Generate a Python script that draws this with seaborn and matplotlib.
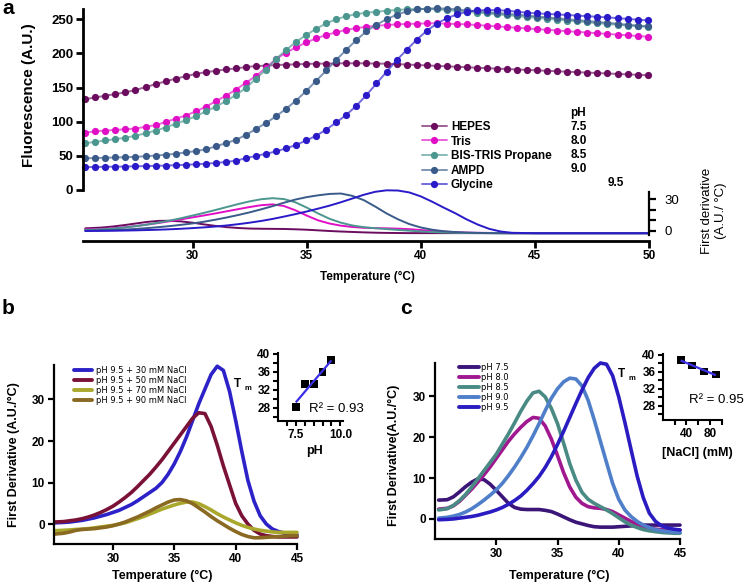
import matplotlib
matplotlib.use("Agg")
import matplotlib.pyplot as plt
from matplotlib.colors import to_rgba
from matplotlib.ticker import FixedLocator
import numpy as np
import seaborn as sns

sns.set_theme(style="ticks")
plt.rcParams["font.family"] = ["Liberation Sans", "DejaVu Sans"]
plt.rcParams["font.weight"] = "bold"
plt.rcParams["axes.labelweight"] = "bold"
plt.rcParams["axes.edgecolor"] = "black"
plt.rcParams["xtick.color"] = "black"
plt.rcParams["ytick.color"] = "black"
plt.rcParams["text.color"] = "black"
for k in ["xtick.major.width", "ytick.major.width", "xtick.minor.width", "ytick.minor.width"]:
    plt.rcParams[k] = 1.6

# ---------------- panel a : melting curves ----------------
buffers = ["HEPES", "Tris", "BIS-TRIS Propane", "AMPD", "Glycine"]
buffer_ph = ["7.5", "8.0", "8.5", "9.0", "9.5"]
colors_a = ["#6b0c5f", "#e00fc6", "#4b968f", "#3a5b8a", "#2a1ac8"]

temp_a = [25.30, 25.74, 26.18, 26.62, 27.06, 27.50, 27.94, 28.38, 28.82, 29.26,
          29.70, 30.14, 30.58, 31.02, 31.46, 31.90, 32.34, 32.78, 33.22, 33.66,
          34.10, 34.54, 34.98, 35.42, 35.86, 36.30, 36.74, 37.18, 37.62, 38.06,
          38.50, 38.94, 39.38, 39.82, 40.26, 40.70, 41.14, 41.58, 42.02, 42.46,
          42.90, 43.34, 43.78, 44.22, 44.66, 45.10, 45.54, 45.98, 46.42, 46.86,
          47.30, 47.74, 48.18, 48.62, 49.06, 49.50, 49.94]

fluo_hepes = [133, 135.5, 138, 140.5, 143, 146.5, 150.5, 155, 159, 163,
              166.5, 170, 172.5, 174.5, 176.5, 178, 180, 181.5, 182, 183,
              183.5, 184, 184.5, 185, 185, 185.5, 185.5, 185.5, 185.5, 185,
              185, 184.3, 183.7, 183, 182.4, 181.7, 181, 180.4, 179.7, 179,
              178.4, 177.7, 177.1, 176.4, 175.8, 175.1, 174.5, 173.8, 173.2, 172.5,
              171.9, 171.2, 170.6, 169.9, 169.3, 168.6, 168]
fluo_tris = [84, 86, 87, 88, 89, 90, 92.5, 95, 99.5, 104.5,
             109, 115, 122, 130, 138, 147, 157, 167, 179, 192,
             201, 209, 216, 222, 227, 231, 234.5, 237, 239, 240.5,
             241.5, 242.5, 243, 243.5, 244, 244, 243.5, 243, 242.5, 241.5,
             240.5, 239.5, 238.5, 237.5, 236.5, 235.5, 234.5, 233.5, 232.5, 231.5,
             230.5, 229.5, 228.5, 227.5, 226.5, 225.5, 224.5]
fluo_btp = [68.5, 70.5, 72.5, 74.5, 76.5, 79.5, 83, 87, 91.5, 97,
            102, 108, 115, 122, 130, 139, 149.5, 163, 176, 192,
            205, 217, 227, 236, 244, 250, 254.5, 257.5, 259.5, 261,
            262.5, 263.5, 264.5, 265, 265, 264.5, 263.5, 262.3, 261, 259.8,
            258.5, 257.2, 255.9, 254.6, 253.3, 252, 250.7, 249.4, 248.1, 246.8,
            245.5, 244.2, 243, 241.9, 240.8, 239.8, 239]
fluo_ampd = [46.5, 46.8, 47.2, 47.6, 48, 48.6, 49.4, 50.4, 51.6, 53,
             55, 57, 59.5, 64, 68.5, 73.5, 80.5, 89.5, 98, 108,
             119, 131, 145, 160, 175, 190.5, 205.5, 219.5, 232.5, 242,
             250, 256.5, 261.5, 264.5, 265.5, 266, 265.5, 264.5, 263, 261.8,
             260.5, 259.2, 258, 256.7, 255.4, 254, 252.7, 251.4, 250, 248.7,
             247.4, 246, 244.7, 243.4, 242, 240.7, 239.5]
fluo_gly = [33.5, 33.7, 34, 34.2, 34.4, 34.7, 35, 35.4, 35.8, 36.3,
            36.9, 37.6, 38.5, 39.6, 41, 43, 46.5, 50, 53, 56.5,
            61, 66, 72.5, 79.5, 88.5, 99, 110, 123.5, 139, 156,
            173, 190, 205, 220, 233, 243.5, 251.5, 257, 261, 263,
            263.5, 263.3, 262.5, 261, 259.5, 258.5, 257.8, 257, 256.2, 255.4,
            254.5, 253.6, 252.7, 251.6, 250.5, 249.4, 248.3]

temp_da = [25.3, 26, 26.5, 27, 27.5, 28, 28.5, 29, 29.5, 30,
           30.5, 31, 31.5, 32, 32.5, 33, 33.5, 34, 34.5, 35,
           35.5, 36, 36.5, 37, 37.5, 38, 38.5, 39, 39.5, 40,
           40.5, 41, 41.5, 42, 42.5, 43, 43.5, 44, 45, 46, 47, 48, 49, 50]
deriv_hepes = [2.5, 3.2, 4.2, 5.5, 7, 8.5, 9.5, 9.6, 9, 7.8,
               6.2, 4.8, 3.6, 2.8, 2.3, 2.1, 2, 1.9, 1.6, 1.2,
               0.6, 0, -0.5, -0.9, -1.3, -1.6, -1.8, -1.9, -2, -2,
               -2, -2, -2, -2, -2, -2, -2, -2, -2, -2, -2, -2, -2, -2]
deriv_tris = [1.5, 2, 2.6, 3.5, 4.6, 6, 7.5, 9.2, 11, 12.8,
              14.6, 16.5, 18.5, 20.5, 22.5, 24.2, 25, 23.5, 19.5, 14.5,
              10, 7, 5, 3.8, 3, 2.7, 2.5, 2.2, 1.7, 0.9,
              0.1, -0.6, -1.1, -1.5, -1.7, -1.8, -1.9, -1.9, -1.9, -1.9, -1.9, -1.9, -1.9, -1.9]
deriv_btp = [1, 1.6, 2.3, 3.2, 4.5, 6, 7.8, 9.8, 12, 14.5,
             17, 19.7, 22.5, 25.3, 27.8, 29.8, 30.8, 30, 27, 22,
             16.5, 11.5, 7.8, 5.2, 3.6, 2.6, 1.8, 1, 0.3, -0.4,
             -1, -1.4, -1.7, -1.9, -2, -2, -2.1, -2.1, -2.1, -2.1, -2.1, -2.1, -2.1, -2.1]
deriv_ampd = [0.3, 0.6, 0.9, 1.3, 1.9, 2.7, 3.6, 4.6, 5.8, 7.1,
              8.7, 10.6, 12.7, 15, 17.5, 20.3, 23.3, 26.5, 29.5, 31.8,
              33.5, 34.8, 35.2, 33, 29, 23, 16.5, 11, 6.5, 3.3,
              1.2, -0.2, -1, -1.5, -1.8, -2, -2.1, -2.2, -2.2, -2.2, -2.2, -2.2, -2.2, -2.2]
deriv_gly = [0, 0.1, 0.2, 0.4, 0.6, 0.9, 1.2, 1.6, 2.1, 2.7,
             3.4, 4.2, 5.2, 6.4, 7.8, 9.4, 11.3, 13.5, 15.8, 18.3,
             21, 23.8, 27, 30.5, 34, 36.8, 38.2, 38, 36.2, 32.5,
             27.5, 22, 16.8, 11, 6, 2, -0.5, -1.7, -2.1, -2.1, -2.1, -2.1, -2.1, -2.1]

# ---------------- panels b and c : first derivatives ----------------
temp_bc = [25.3, 26, 26.5, 27, 27.5, 28, 28.5, 29, 29.5, 30,
           30.5, 31, 31.5, 32, 32.5, 33, 33.5, 34, 34.5, 35,
           35.5, 36, 36.5, 37, 37.5, 38, 38.5, 39, 39.5, 40,
           40.5, 41, 41.5, 42, 42.5, 43, 43.5, 44, 44.5, 45]

nacl_labels = ["pH 9.5 + 30 mM NaCl", "pH 9.5 + 50 mM NaCl",
               "pH 9.5 + 70 mM NaCl", "pH 9.5 + 90 mM NaCl"]
colors_b = ["#2c22c8", "#7a1238", "#a9a82c", "#8a6a22"]
deriv_30 = [0.3, 0.4, 0.5, 0.7, 0.9, 1.2, 1.5, 1.9, 2.3, 2.8,
            3.3, 4, 4.7, 5.6, 6.6, 7.6, 8.6, 10, 12, 14.5,
            17.5, 21, 25, 29, 32.5, 36, 38, 37, 32, 25,
            17.5, 10.5, 5.5, 2, 0, -1.2, -1.8, -2.2, -2.5, -2.6]
deriv_50 = [0.5, 0.6, 0.8, 1, 1.3, 1.7, 2.2, 2.8, 3.5, 4.3,
            5.3, 6.4, 7.6, 9, 10.5, 12, 13.7, 15.5, 17.5, 19.5,
            21.5, 23.5, 25.5, 26.8, 26.6, 23.5, 19, 14, 9.5, 5,
            2, 0, -1.5, -2.4, -2.8, -3, -3.1, -3.1, -3.1, -3.1]
deriv_70 = [-1.6, -1.5, -1.4, -1.3, -1.2, -1.1, -0.9, -0.7, -0.5, -0.3,
            0, 0.3, 0.8, 1.3, 1.8, 2.4, 3, 3.6, 4.1, 4.6,
            5, 5.3, 5.3, 4.9, 4.2, 3.4, 2.5, 1.7, 1, 0.3,
            -0.3, -0.8, -1.2, -1.5, -1.7, -1.9, -2, -2, -2, -2]
deriv_90 = [-2.4, -2.2, -1.9, -1.5, -1.3, -1.2, -1.1, -0.9, -0.7, -0.4,
            0, 0.5, 1.1, 1.7, 2.4, 3.1, 3.9, 4.6, 5.3, 5.8,
            5.9, 5.6, 4.9, 3.9, 2.9, 1.8, 0.8, -0.1, -1, -1.8,
            -2.5, -3, -3.3, -3.3, -3.2, -3.1, -3, -2.9, -2.8, -2.8]

ph_labels = ["pH 7.5", "pH 8.0", "pH 8.5", "pH 9.0", "pH 9.5"]
colors_c = ["#3b1578", "#a01890", "#4a8a84", "#4f7fc9", "#2a1cc0"]
deriv_ph75 = [4.6, 4.7, 5.4, 6.6, 7.9, 9, 9.8, 9.6, 8.5, 7,
              5.4, 3.8, 2.8, 2.4, 2.3, 2.3, 2.3, 2.1, 1.8, 1.2,
              0.5, -0.2, -0.8, -1.2, -1.6, -1.9, -2, -2, -2, -1.9,
              -1.8, -1.7, -1.6, -1.5, -1.5, -1.5, -1.5, -1.5, -1.5, -1.5]
deriv_ph80 = [2.4, 2.6, 3.2, 4.3, 5.8, 7.3, 9, 10.8, 12.7, 14.8,
              16.9, 19, 20.8, 22.4, 23.8, 24.8, 24.6, 22.7, 19.5, 15.5,
              11.3, 7.8, 5.3, 3.8, 3, 2.7, 2.6, 2.3, 1.8, 1,
              0.2, -0.6, -1.3, -1.9, -2.3, -2.5, -2.6, -2.7, -2.7, -2.7]
deriv_ph85 = [2.2, 2.5, 3.3, 4.5, 6, 7.8, 9.8, 11.8, 13.8, 15.8,
              18.3, 20.8, 23.5, 26.3, 28.8, 30.8, 31.2, 29.8, 27, 23.3,
              18.5, 13.5, 9.5, 6.5, 4.8, 3.8, 3, 2.2, 1.3, 0.3,
              -0.7, -1.5, -2.1, -2.6, -2.9, -3.1, -3.3, -3.4, -3.5, -3.5]
deriv_ph90 = [0.2, 0.4, 0.7, 1.1, 1.7, 2.5, 3.5, 4.6, 5.8, 7.1,
              8.7, 10.6, 12.7, 15, 17.5, 20.3, 23.3, 26.5, 29.5, 31.8,
              33.5, 34.4, 34.2, 32.5, 29, 24.2, 19, 13.8, 8.7, 4.8,
              2.2, 0.6, -0.6, -1.5, -2.1, -2.6, -2.9, -3.1, -3.2, -3.3]
deriv_ph95 = [-0.2, -0.1, 0, 0.2, 0.4, 0.6, 0.9, 1.3, 1.7, 2.2,
              2.8, 3.6, 4.5, 5.6, 7, 8.6, 10.4, 12.6, 15.2, 18.2,
              21.4, 24.8, 28.2, 31.5, 34.5, 36.8, 38.1, 37.8, 35, 29.8,
              23.6, 17, 10.5, 5.2, 1.4, -0.6, -1.7, -2.2, -2.5, -2.7]

# insets: Tm
inset_ph = [7.5, 8.0, 8.5, 9.0, 9.5]
tm_ph = [28.3, 33.3, 33.3, 36.0, 38.6]
inset_nacl = [30, 50, 70, 90]
tm_nacl = [38.8, 37.5, 36.1, 35.4]

W, H = 744, 585


def box(l, t, r, b):
    return [l / W, 1 - b / H, (r - l) / W, (b - t) / H]


fig = plt.figure(figsize=(W / 100, H / 100), dpi=100)


def ftext(x, y, s, **kw):
    kw.setdefault("ha", "center")
    kw.setdefault("va", "center")
    fig.text(x / W, 1 - y / H, s, **kw)


def clear_patch(ax):
    ax.set_facecolor("none")
    ax.set_xlabel("")
    ax.set_ylabel("")


# ---- panel a, fluorescence ----
ax_f = fig.add_axes(box(83, 9, 649, 190))
fluo = [fluo_hepes, fluo_tris, fluo_btp, fluo_ampd, fluo_gly]
for name, vals, col in zip(buffers, fluo, colors_a):
    sns.lineplot(x=temp_a, y=vals, ax=ax_f, color=to_rgba(col, 0.65), lw=1.4,
                 marker="o", markersize=5.2, markerfacecolor=col, markeredgecolor=col,
                 markeredgewidth=0, label=name, clip_on=False)
ax_f.set_xlim(25.2, 50)
ax_f.set_ylim(0, 265)
ax_f.set_yticks([0, 50, 100, 150, 200, 250])
ax_f.set_xticks([])
sns.despine(ax=ax_f, bottom=True)
ax_f.spines["left"].set_linewidth(2)
ax_f.tick_params(axis="y", labelsize=9.5, length=5, width=2, pad=2)
clear_patch(ax_f)
ax_f.legend(loc="upper left", bbox_to_anchor=(422 / W, 1 - 121 / H),
            bbox_transform=fig.transFigure, frameon=False,
            prop=dict(weight="bold", size=8.5), handlelength=2.1,
            handletextpad=0.35, labelspacing=0.22, borderpad=0, borderaxespad=0)
ftext(578, 113, "pH", fontsize=8.5, fontweight="bold")
for i, ph in enumerate(buffer_ph[:4]):
    ftext(579, 127 + 14 * i, ph, fontsize=8.5, fontweight="bold")
ftext(616, 183, buffer_ph[4], fontsize=8.5, fontweight="bold")

# ---- panel a, derivative strip ----
ax_d = fig.add_axes(box(83, 190, 649, 241))
deriv_a = [deriv_hepes, deriv_tris, deriv_btp, deriv_ampd, deriv_gly]
for vals, col in zip(deriv_a, colors_a):
    sns.lineplot(x=temp_da, y=vals, ax=ax_d, color=col, lw=1.4, clip_on=False)
ax_d.set_xlim(25.2, 50)
ax_d.set_ylim(-9.4, 38.5)
for s in ["top", "left"]:
    ax_d.spines[s].set_visible(False)
ax_d.spines["bottom"].set_linewidth(2)
ax_d.spines["right"].set_linewidth(1.6)
ax_d.spines["right"].set_bounds(-3.7, 36.5)
ax_d.yaxis.tick_right()
ax_d.set_xticks([30, 35, 40, 45, 50])
ax_d.set_yticks([0, 30])
ax_d.set_yticklabels(["0", "30"], fontweight="normal")
ax_d.yaxis.set_minor_locator(FixedLocator([10, 20]))
ax_d.tick_params(axis="x", labelsize=8.5, length=5, width=2, pad=1.5)
ax_d.tick_params(axis="y", which="both", labelsize=9.5, length=5, width=1.6, pad=6)
clear_patch(ax_d)
ftext(367, 277, "Temperature (°C)", fontsize=8.5, fontweight="bold")
ftext(29, 95, "Fluorescence (A.U.)", fontsize=11, fontweight="bold", rotation=90)
ftext(714, 211, "First derivative\n(A.U./ °C)", fontsize=9.5, fontweight="normal",
      rotation=90, linespacing=1.15)
ftext(8, 9, "a", fontsize=15, fontweight="bold")


# ---- panels b and c ----
def deriv_panel(rect, series, labels, colors, xlim, ylim, leg_anchor, hlen, tpad):
    ax = fig.add_axes(box(*rect))
    for vals, lab, col in zip(series, labels, colors):
        sns.lineplot(x=temp_bc, y=vals, ax=ax, color=col, lw=2.6, label=lab,
                     clip_on=False)
    ax.set_xlim(*xlim)
    ax.set_ylim(*ylim)
    ax.set_xticks([30, 35, 40, 45])
    ax.set_yticks([0, 10, 20, 30])
    sns.despine(ax=ax)
    for s in ["left", "bottom"]:
        ax.spines[s].set_linewidth(1.6)
    ax.tick_params(labelsize=8.5, length=4, width=1.6, pad=2.5)
    clear_patch(ax)
    ax.legend(loc="upper left", bbox_to_anchor=(leg_anchor[0] / W, 1 - leg_anchor[1] / H),
              bbox_transform=fig.transFigure, frameon=False,
              prop=dict(family="DejaVu Sans", weight="normal", size=6),
              handlelength=hlen, handletextpad=tpad, labelspacing=0.12,
              borderpad=0, borderaxespad=0)
    for h in ax.get_legend().get_lines():
        h.set_linewidth(2.8)
    return ax


ax_b = deriv_panel((54, 365, 297, 544), [deriv_30, deriv_50, deriv_70, deriv_90],
                   nacl_labels, colors_b, (25.2, 45), (-4.8, 38.3), (74, 366), 2.2, 0.45)
ax_c = deriv_panel((435, 363, 680, 539),
                   [deriv_ph75, deriv_ph80, deriv_ph85, deriv_ph90, deriv_ph95],
                   ph_labels, colors_c, (25.0, 45), (-4.9, 38.1), (459, 363), 2.4, 0.25)

ftext(14, 455, "First Derivative (A.U./°C)", fontsize=9, fontweight="bold", rotation=90)
ftext(162, 576, "Temperature (°C)", fontsize=9, fontweight="bold")
ftext(394, 455, "First Derivative(A.U./°C)", fontsize=9, fontweight="bold", rotation=90)
ftext(559, 576, "Temperature (°C)", fontsize=9, fontweight="bold")
ftext(8, 309, "b", fontsize=15, fontweight="bold")
ftext(406, 309, "c", fontsize=15, fontweight="bold")


# ---- insets ----
def tm_inset(rect, xs, ys, xlim, ylim, xmajor, xminor, xlabels, xtitle, title_xy, r2, r2_xy, tm_xy):
    ax = fig.add_axes(box(*rect))
    sns.scatterplot(x=xs, y=ys, ax=ax, marker="s", color="black", s=32,
                    edgecolor="none", zorder=3, clip_on=False)
    # linear fit through the Tm points, drawn over the data range
    slope, icpt = np.polyfit(np.asarray(xs, float), np.asarray(ys, float), 1)
    xr = np.array([min(xs), max(xs)], dtype=float)
    ax.plot(xr, slope * xr + icpt, color="#3b2fe6", lw=1.6, zorder=4,
            solid_capstyle="butt")
    ax.set_xlim(*xlim)
    ax.set_ylim(*ylim)
    ax.set_xticks(xmajor)
    ax.set_xticklabels(xlabels)
    ax.set_yticks([28, 32, 36, 40])
    ax.xaxis.set_minor_locator(FixedLocator(xminor))
    ax.yaxis.set_minor_locator(FixedLocator([26, 30, 34, 38]))
    sns.despine(ax=ax)
    for s in ["left", "bottom"]:
        ax.spines[s].set_linewidth(1.5)
    ax.tick_params(which="both", labelsize=8.5, length=3.5, width=1.5, pad=2)
    clear_patch(ax)
    ftext(title_xy[0], title_xy[1], xtitle, fontsize=9, fontweight="bold")
    ftext(r2_xy[0], r2_xy[1], r2, fontsize=9.5, fontweight="normal", ha="left")
    ftext(tm_xy[0], tm_xy[1], "T", fontsize=8.5, fontweight="bold")
    ftext(tm_xy[0] + 11, tm_xy[1] + 5, "m", fontsize=5.5, fontweight="bold")
    return ax


tm_inset((278, 353, 343, 421), inset_ph, tm_ph, (6.5, 10.15), (25.1, 40.2),
         [7.5, 10.0], [7.0, 8.0, 8.5, 9.0, 9.5], ["7.5", "10.0"], "pH", (315, 451),
         "R² = 0.93", (309, 409), (237, 384))
tm_inset((663, 354, 722, 420), inset_nacl, tm_nacl, (0, 100.5), (24.7, 40.2),
         [40, 80], [20, 60, 100], ["40", "80"], "[NaCl] (mM)", (697, 453),
         "R² = 0.95", (689, 400), (621, 374))

fig.savefig("out.png", dpi=100)
